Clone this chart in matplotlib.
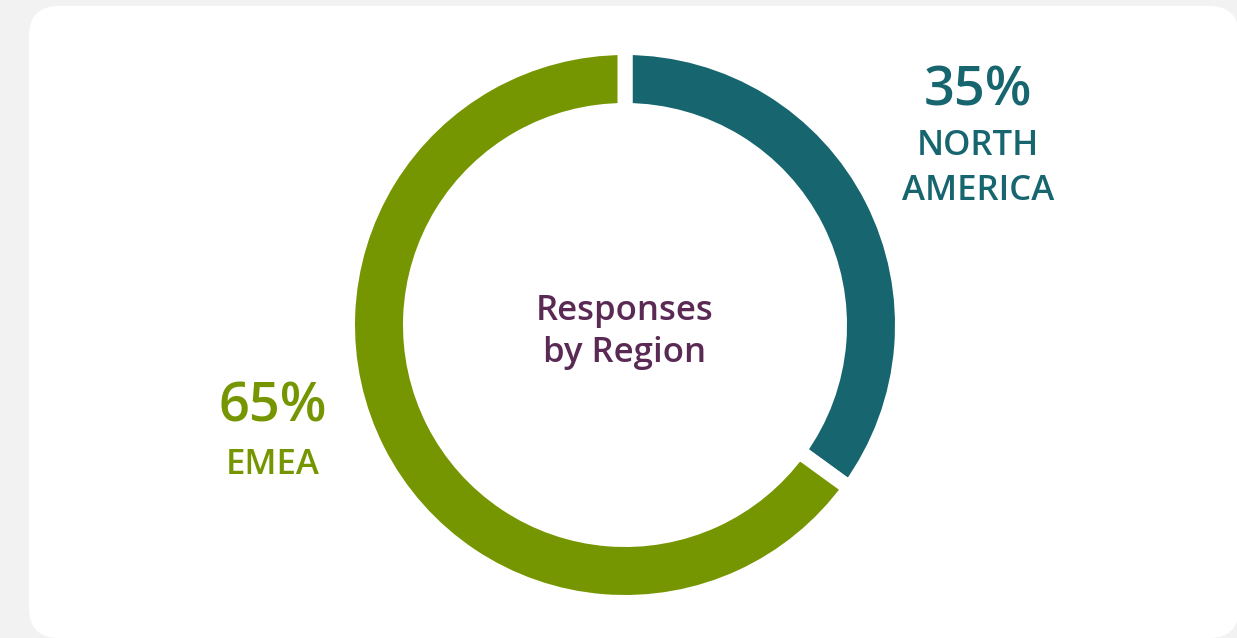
import matplotlib
matplotlib.use("Agg")
import matplotlib.pyplot as plt
from matplotlib.patches import FancyBboxPatch

# Data
regions = ["NORTH\nAMERICA", "EMEA"]
shares = [35, 65]
colors = ["#17666f", "#759600"]
center_title = "Responses\nby Region"

W, H = 1237, 638
plt.rcParams["font.family"] = ["Open Sans", "DejaVu Sans"]

fig = plt.figure(figsize=(W / 100, H / 100), dpi=100, facecolor="#f2f2f2")
ax = fig.add_axes([0, 0, 1, 1])

# Card background (rounded white panel)
rad = 30
x0, x1, y0, y1 = 29, 1239, 0, H - 6
card = FancyBboxPatch((x0 + rad, y0 + rad), (x1 - x0) - 2 * rad, (y1 - y0) - 2 * rad,
                      boxstyle=f"round,pad={rad}", facecolor="white", edgecolor="none",
                      zorder=0)
ax.add_patch(card)

# Donut ring: white edges create the separating gaps
cx, cy = 625, H - 325
gap = 15  # px
outer = 270 + gap / 2
ring = 48 + gap
ax.pie(shares, colors=colors, startangle=90, counterclock=False,
       radius=outer, center=(cx, cy),
       wedgeprops=dict(width=ring, edgecolor="white", linewidth=gap * 0.72))

ax.set_xlim(0, W)
ax.set_ylim(0, H)
ax.set_aspect("equal")
ax.axis("off")

# Labels
teal, green, purple = colors[0], colors[1], "#5a2a55"
wt = "semibold"
ax.text(978, H - 106, f"{shares[0]}%", color=teal, fontsize=39,
        ha="center", va="baseline", fontweight=wt)
ax.text(978, H - 155, regions[0].split("\n")[0], color=teal, fontsize=25,
        ha="center", va="baseline", fontweight=wt)
ax.text(978, H - 200, regions[0].split("\n")[1], color=teal, fontsize=25,
        ha="center", va="baseline", fontweight=wt)

ax.text(273, H - 422, f"{shares[1]}%", color=green, fontsize=39,
        ha="center", va="baseline", fontweight=wt)
ax.text(273, H - 474, regions[1], color=green, fontsize=25,
        ha="center", va="baseline", fontweight=wt)

t1, t2 = center_title.split("\n")
ax.text(625, H - 320, t1, color=purple, fontsize=25, ha="center",
        va="baseline", fontweight=wt)
ax.text(625, H - 362, t2, color=purple, fontsize=25, ha="center",
        va="baseline", fontweight=wt)

fig.savefig("out.png", dpi=100, facecolor=fig.get_facecolor())
